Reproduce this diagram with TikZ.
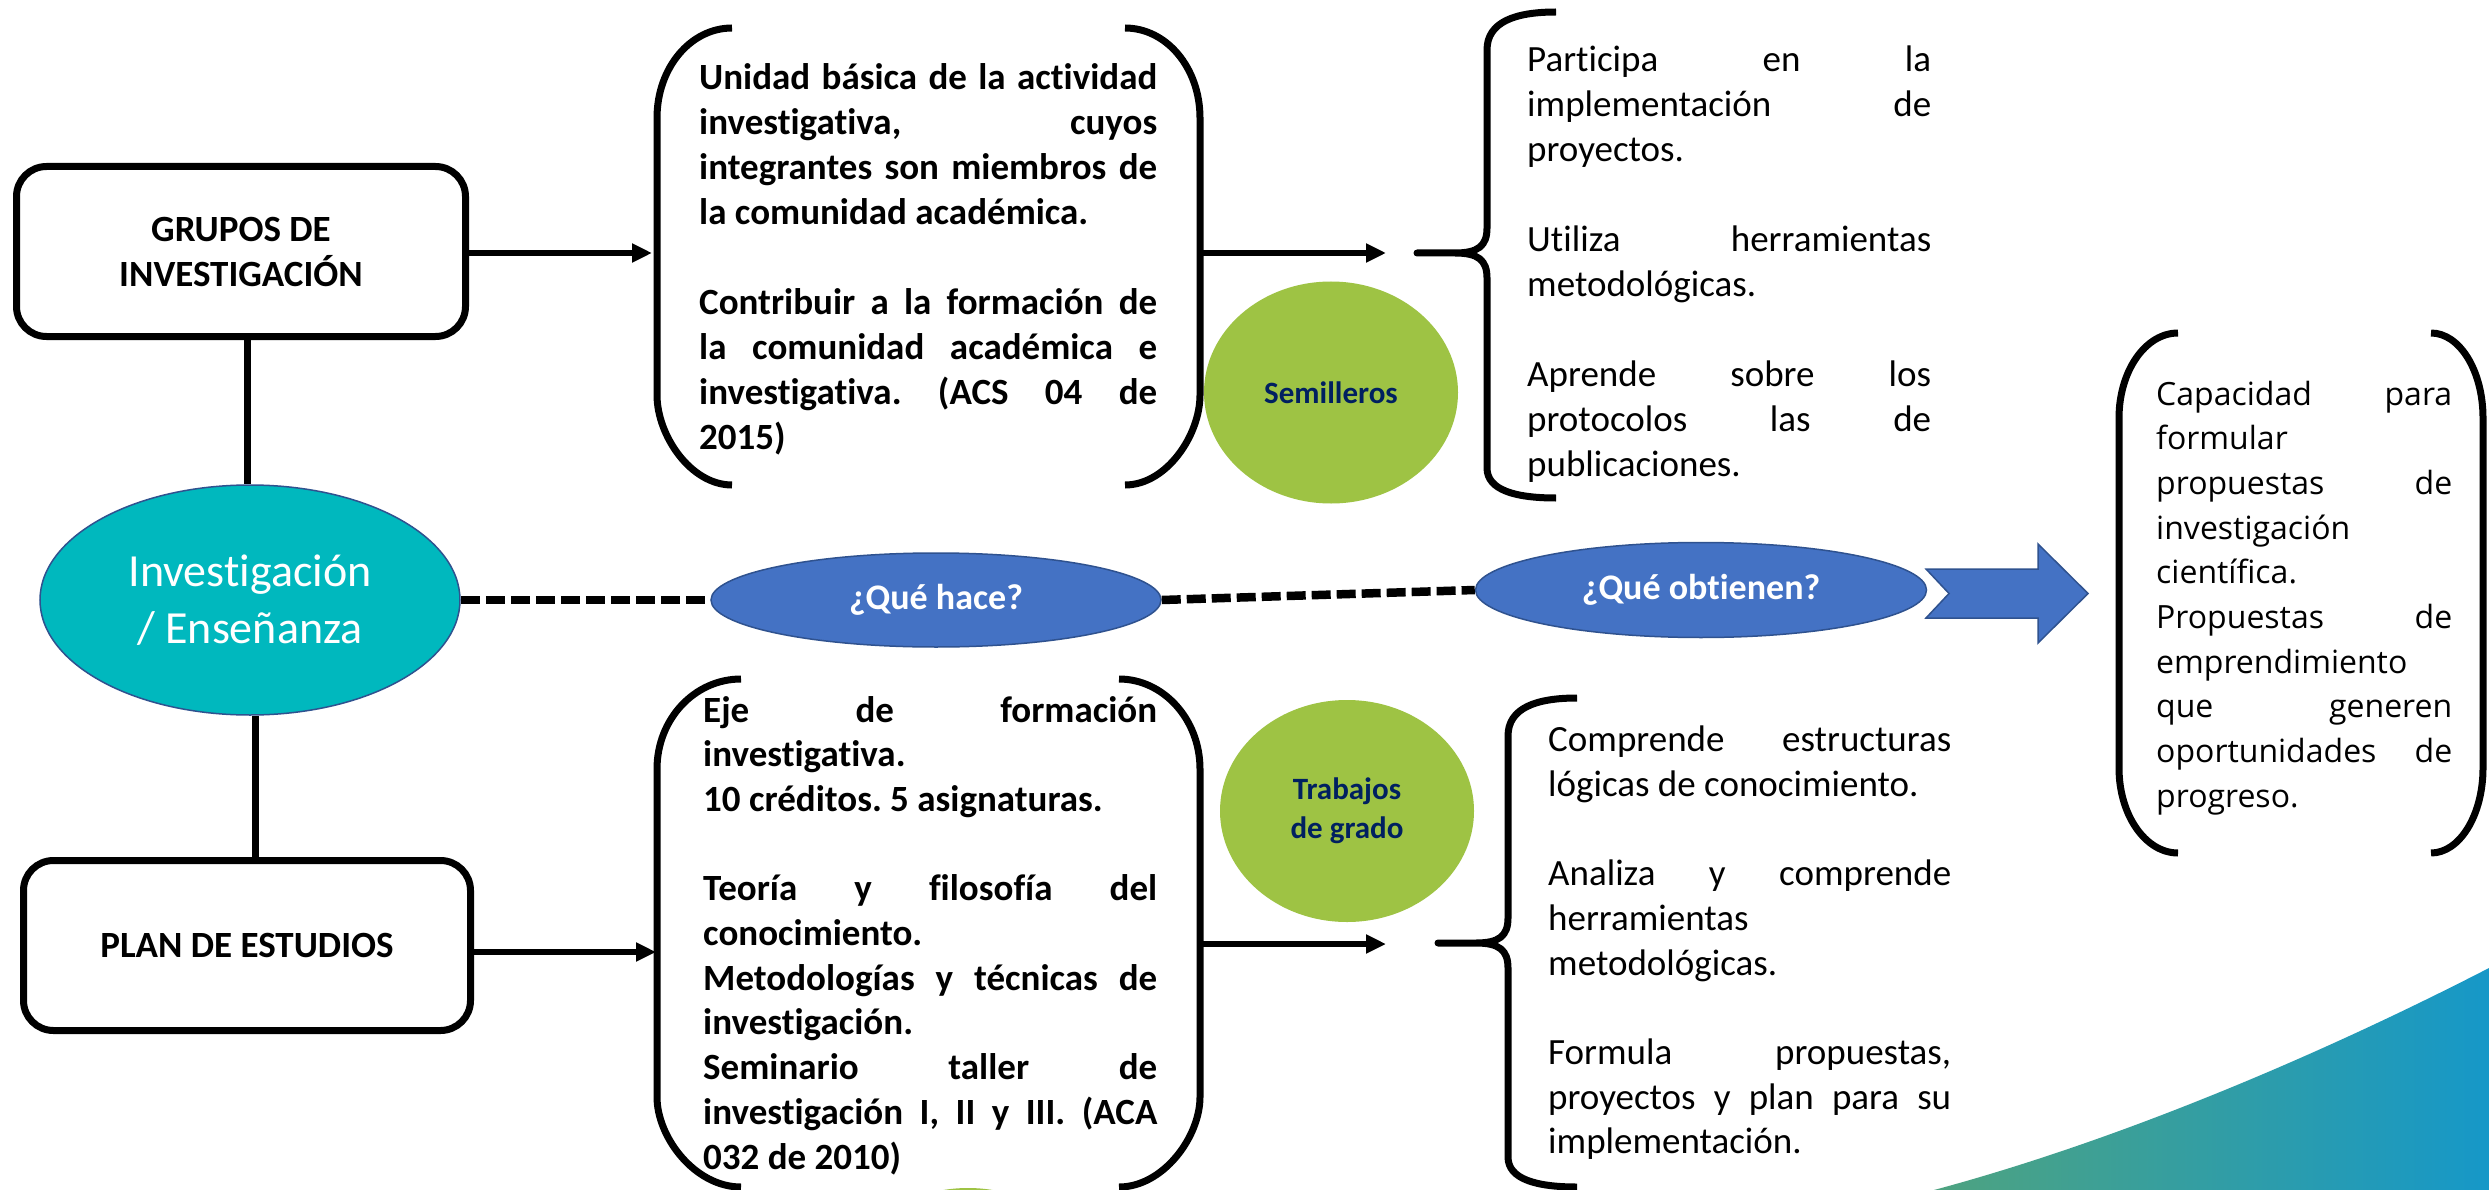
\documentclass[tikz,border=0pt]{standalone}
\usepackage{fontspec}
\setmainfont{Carlito}[Ligatures=NoCommon]
\newfontfamily\segoe{Open Sans}[Ligatures=NoCommon]
\usetikzlibrary{arrows.meta,shapes.geometric,calc}
\definecolor{teal1}{RGB}{0,184,190}
\definecolor{blue1}{RGB}{68,114,196}
\definecolor{blueb}{RGB}{47,82,143}
\definecolor{green1}{RGB}{158,195,68}
\definecolor{navy}{RGB}{0,32,96}
\definecolor{swL}{RGB}{78,163,128}
\definecolor{swR}{RGB}{22,152,200}
\newcommand\jl[1]{\makebox[\linewidth][s]{#1}}
\frenchspacing
\begin{document}
\begin{tikzpicture}[x=1pt,y=-1pt,
  box/.style={draw, line width=7pt, rounded corners=30pt, align=center,
    font=\fontsize{37}{45}\selectfont\bfseries, inner sep=0pt},
  oval/.style={ellipse, inner sep=0pt, draw=blueb, line width=1.5pt},
  qoval/.style={oval, fill=blue1, text=white, font=\fontsize{36}{44}\selectfont\bfseries},
  goval/.style={ellipse, inner sep=0pt, fill=green1, text=navy, align=center,
    font=\fontsize{31}{39}\selectfont\bfseries},
  txt/.style={anchor=base west, inner sep=0pt},
  paren/.style={line width=7pt},
  conn/.style={line width=6pt, -{Triangle[length=20pt,width=18pt]}},
  dline/.style={line width=8.5pt, dash pattern=on 19pt off 6pt},
]
\useasboundingbox (0,0) rectangle (2489,1190);
\fill[white] (0,0) rectangle (2489,1190);

% background swoosh and cut-off green ellipse
\begin{scope}
\clip (0,0) rectangle (2489,1190);
\shade[left color=swL, right color=swR] (1934,1190) .. controls (2120,1140) and (2320,1055) .. (2489,968) -- (2489,1190) -- cycle;
\fill[green1] (968,1300) ellipse [x radius=130pt, y radius=112pt];
\end{scope}

% left column
\node[box, minimum width=449pt, minimum height=170pt] (grupos) at (241,251.5) {GRUPOS DE\\INVESTIGACIÓN};
\node[box, minimum width=447pt, minimum height=170pt] (plan) at (247,945.5) {PLAN DE ESTUDIOS};
\node[oval, fill=teal1, text=white, minimum width=420pt, minimum height=230pt, align=center,
  font=\fontsize{46}{57}\selectfont] (inv) at (250,600) {Investigación\\/ Enseñanza};

\draw[line width=7pt] ([xshift=-3pt]inv.north |- grupos.south) -- ([xshift=-3pt]inv.north);
\draw[line width=7pt] ([xshift=5pt]inv.south) -- ([xshift=5pt]inv.south |- plan.north);

% question ovals
\node[qoval, minimum width=450pt, minimum height=94pt] (qh) at (936,600) {¿Qué hace?};
\node[qoval, minimum width=451pt, minimum height=95pt] (qo) at (1701,590) {¿Qué obtienen?};
\draw[dline] (inv.east) -- (qh.west);
\draw[dline] (qh.east) -- (qo.west);

% block arrow
\filldraw[fill=blue1, draw=blueb, line width=1.5pt] (1926,569) -- (1949,593.5) -- (1926,618) -- (2038,618) -- (2038,643) -- (2088,593.5) -- (2038,544) -- (2038,569) -- cycle;

% green ovals
\node[goval, minimum width=254pt, minimum height=222pt] (sem) at (1331,392.5) {Semilleros};
\node[goval, minimum width=254pt, minimum height=222pt] (tg) at (1347,811) {Trabajos\\de grado};

% top bracket box
\draw[paren] (732,28) .. controls (690.6,28) and (657,67.7) .. (657,118) -- (657,395) .. controls (657,435.3) and (690.6,485) .. (732,485);
\draw[paren] (1125,28) .. controls (1166.4,28) and (1200,67.7) .. (1200,118) -- (1200,395) .. controls (1200,435.3) and (1166.4,485) .. (1125,485);
\node[txt] (ub) at (699,90) {\parbox[t]{458pt}{\fontsize{37}{45}\selectfont\bfseries
\jl{Unidad básica de la actividad}\\
\jl{investigativa, cuyos}\\
\jl{integrantes son miembros de}\\
la comunidad académica.\\[45pt]
\jl{Contribuir a la formación de}\\
\jl{la comunidad académica e}\\
\jl{investigativa. (ACS 04 de}\\
2015)}};

% bottom bracket box
\draw[paren] (741,679) .. controls (694.6,679) and (657,719) .. (657,769) -- (657,1097) .. controls (657,1137) and (694.6,1187) .. (741,1187);
\draw[paren] (1119,679) .. controls (1163,679) and (1200,719) .. (1200,769) -- (1200,1097) .. controls (1200,1137) and (1163,1187) .. (1119,1187);
\node[txt] (ul) at (703,722) {\parbox[t]{454pt}{\fontsize{37}{44.7}\selectfont\bfseries
\jl{Eje de formación}\\
investigativa.\\
10 créditos. 5 asignaturas.\\[44.7pt]
\jl{Teoría y filosofía del}\\
conocimiento.\\
\jl{Metodologías y técnicas de}\\
investigación.\\
\jl{Seminario taller de}\\
\jl{investigación I, II y III. (ACA}\\
032 de 2010)}};

% arrows into bracket boxes
\coordinate (ubL) at (652,253);
\coordinate (ulL) at (656,952);
\draw[conn] (grupos.east |- ubL) -- (ubL);
\draw[conn] (plan.east |- ulL) -- (ulL);

% arrows out of bracket boxes
\coordinate (ubR) at (1200,253);
\coordinate (ubT) at (1386,253);
\coordinate (ulR) at (1200,944);
\coordinate (ulT) at (1386,944);
\draw[conn] (ubR) -- (ubT);
\draw[conn] (ulR) -- (ulT);

% top brace
\draw[paren, line join=round] (1556,12) .. controls (1515,12) and (1487,22) .. (1487,50) -- (1487,228) .. controls (1487,246) and (1478,253) .. (1455,253) -- (1417,253) -- (1455,253) .. controls (1478,253) and (1487,260) .. (1487,278) -- (1487,468) .. controls (1487,490) and (1515,498) .. (1556,498);
\node[txt] (bt) at (1527,72) {\parbox[t]{404pt}{\fontsize{37}{45}\selectfont
\jl{Participa en la}\\
\jl{implementación de}\\
proyectos.\\[45pt]
\jl{Utiliza herramientas}\\
metodológicas.\\[45pt]
\jl{Aprende sobre los}\\
\jl{protocolos las de}\\
publicaciones.}};

% bottom brace
\draw[paren, line join=round] (1577,698) .. controls (1536,698) and (1508,708) .. (1508,736) -- (1508,918) .. controls (1508,936) and (1499,943) .. (1476,943) -- (1438,943) -- (1476,943) .. controls (1499,943) and (1508,950) .. (1508,968) -- (1508,1157) .. controls (1508,1179) and (1536,1187) .. (1577,1187);
\node[txt] (bb) at (1548,751.6) {\parbox[t]{403pt}{\fontsize{37}{44.7}\selectfont
\jl{Comprende estructuras}\\
lógicas de conocimiento.\\[44.7pt]
\jl{Analiza y comprende}\\
herramientas\\
metodológicas.\\[44.7pt]
\jl{Formula propuestas,}\\
\jl{proyectos y plan para su}\\
implementación.}};

% right result box
\draw[paren] (2178,333) .. controls (2145.4,333) and (2119,371) .. (2119,418) -- (2119,768) .. controls (2119,815) and (2145.4,853) .. (2178,853);
\draw[paren] (2431,333) .. controls (2459.7,333) and (2483,371) .. (2483,418) -- (2483,768) .. controls (2483,815) and (2459.7,853) .. (2431,853);
\node[txt] (rb) at (2156,405) {\parbox[t]{296pt}{\segoe\fontsize{32}{44.7}\selectfont
\jl{Capacidad para}\\
formular\\
\jl{propuestas de}\\
investigación\\
científica.\\
\jl{Propuestas de}\\
emprendimiento\\
\jl{que generen}\\
\jl{oportunidades de}\\
progreso.}};
\end{tikzpicture}
\end{document}
